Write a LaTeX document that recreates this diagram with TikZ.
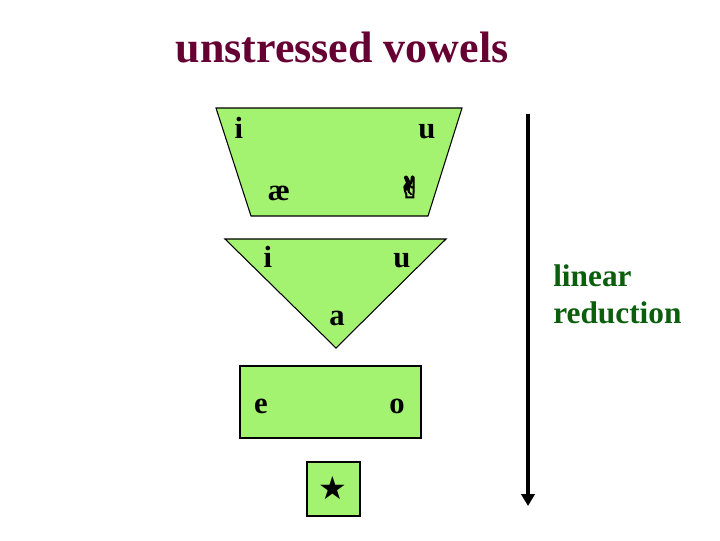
\documentclass[tikz,border=0pt]{standalone}
\usepackage{fontspec}
\setmainfont{Liberation Serif}
\newfontfamily\symfont{DejaVu Sans}
\newfontfamily\handfont[FakeBold=4]{DejaVu Sans}
\usetikzlibrary{arrows.meta}
\definecolor{vgreen}{HTML}{A3F371}
\definecolor{titlecol}{HTML}{660033}
\definecolor{labgreen}{HTML}{0B5E0B}
\tikzset{
  shapefill/.style={fill=vgreen, draw=black, line width=0.8pt, line join=miter},
  vowel/.style={anchor=base, inner sep=0pt, font=\fontsize{23}{26}\selectfont\bfseries},
  symb/.style={inner sep=0pt},
}
\begin{document}
\begin{tikzpicture}[x=0.75pt, y=-0.75pt]
\useasboundingbox (0,0) rectangle (720,540);
% title
\node[anchor=base, inner sep=0pt, text=titlecol, font=\fontsize{33}{38}\selectfont\bfseries] (title) at (342,62) {unstressed vowels};
% trapezoid
\draw[shapefill] (216,108) -- (462,108) -- (428,216) -- (251,216) -- cycle;
\node[vowel] (i1) at (239,138) {i};
\node[vowel] (u1) at (427,138) {u};
\node[vowel] (ae) at (279,200) {æ};
\node[symb, font=\handfont\fontsize{22}{24}\selectfont] (hand) at (410,187) {✌};
% triangle
\draw[shapefill] (225,239) -- (446,239) -- (336,348) -- cycle;
\node[vowel] (i2) at (268,267) {i};
\node[vowel] (u2) at (402,267) {u};
\node[vowel] (a) at (337,325) {a};
% rectangle
\draw[shapefill] (240,366) rectangle (421,438);
\node[vowel] (e) at (261,413) {e};
\node[vowel] (o) at (397,413) {o};
% square
\draw[shapefill] (307,462) rectangle (360,516);
\node[symb, font=\symfont\fontsize{24}{26}\selectfont] (star) at (333,488) {★};
% arrow
\coordinate (atop) at (528,114);
\coordinate (abot) at (528,506);
\draw[line width=2.6pt, -{Triangle[width=10pt,length=9pt]}] (atop) -- (abot);
% label
\node[anchor=base west, inner sep=0pt, text=labgreen, font=\fontsize{23.5}{28}\selectfont\bfseries, align=left] (lab1) at (553,286) {linear};
\node[anchor=base west, inner sep=0pt, text=labgreen, font=\fontsize{23.5}{28}\selectfont\bfseries, align=left] (lab2) at (553,323) {reduction};
\end{tikzpicture}
\end{document}
